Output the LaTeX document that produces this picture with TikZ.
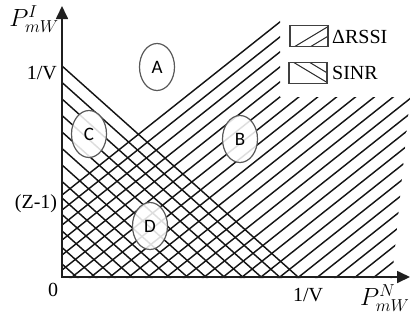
\documentclass[tikz,border=0pt]{standalone}
\usepackage{fontspec}
\setmainfont{Liberation Serif}
\newfontfamily\lettfont{Carlito}
\usetikzlibrary{arrows.meta,shapes.geometric}
\begin{document}
\begin{tikzpicture}[x=1pt,y=-1pt,
  hatch/.style={line width=1.45pt, black!92},
  axisline/.style={line width=1.7pt, black!88},
  region/.style={ellipse, draw=black!65, line width=1.2pt, fill=white, fill opacity=0.86, text opacity=1, inner sep=0pt, minimum width=35pt, minimum height=47pt, font=\lettfont\fontsize{19}{19}\selectfont},
  lbl/.style={inner sep=0pt, font=\fontsize{20}{22}\selectfont},
  axlbl/.style={inner sep=0pt, font=\fontsize{26}{28}\selectfont},
  swatch/.style={draw=black!75, line width=1.1pt, minimum width=38pt, minimum height=21pt, inner sep=0pt}
]
\useasboundingbox (0,0) rectangle (411,322);

% SINR hatching (\ lines)
\begin{scope}
  \clip (61,63) -- (61,278) -- (302,278) -- cycle;
  \foreach \k in {0,...,13}
    \draw[hatch] (40,{66+16.5*\k-19.7}) -- (360,{66+16.5*\k+266.4});
\end{scope}

% Delta RSSI hatching (/ lines)
\begin{scope}
  \clip (61,193) -- (280,19.5) -- (280,97) -- (410,97) -- (392,278) -- (61,278) -- cycle;
  \foreach \j in {0,...,25}
    \draw[hatch] (40,{195+15*\j+17.5}) -- (420,{195+15*\j-284.3});
\end{scope}

% axes
\coordinate (O) at (62,277);
\coordinate (ytip) at (62,6);
\coordinate (xtip) at (410,277);
\draw[axisline, {Triangle[width=12pt,length=13pt]}-{Triangle[width=12pt,length=13pt]}] (ytip) -- (O) -- (xtip);

% region markers
\node[region] (A) at (157,67) {A};
\node[region] (B) at (240,139) {B};
\node[region] (C) at (89,134) {C};
\node[region] (D) at (150,226) {D};

% axis labels
\node[lbl, anchor=east] (yv) at (57,73) {1/V};
\node[lbl] (yz) at (36,204) {(Z-1)};
\node[lbl] (zero) at (53,290) {0};
\node[lbl] (xv) at (308,295) {1/V};
\node[axlbl] (py) at (34,19) {$P^{I}_{mW}$};
\node[axlbl, anchor=west] (px) at (360,298) {$P^{N}_{mW}$};

% legend
\node[swatch, path picture={
  \foreach \o in {-20,-4,12}
    \draw[line width=1pt, black!85] ([xshift=\o pt, yshift=-14pt]path picture bounding box.center) -- ++(40pt,24pt);
}] (sw1) at (309,36) {};
\node[lbl, anchor=west] (t1) at (332,37) {ΔRSSI};
\node[swatch, path picture={
  \foreach \o in {-20,-4,12}
    \draw[line width=1pt, black!85] ([xshift=\o pt, yshift=14pt]path picture bounding box.center) -- ++(40pt,-24pt);
}] (sw2) at (308,73) {};
\node[lbl, anchor=west] (t2) at (332,73) {SINR};
\end{tikzpicture}
\end{document}
